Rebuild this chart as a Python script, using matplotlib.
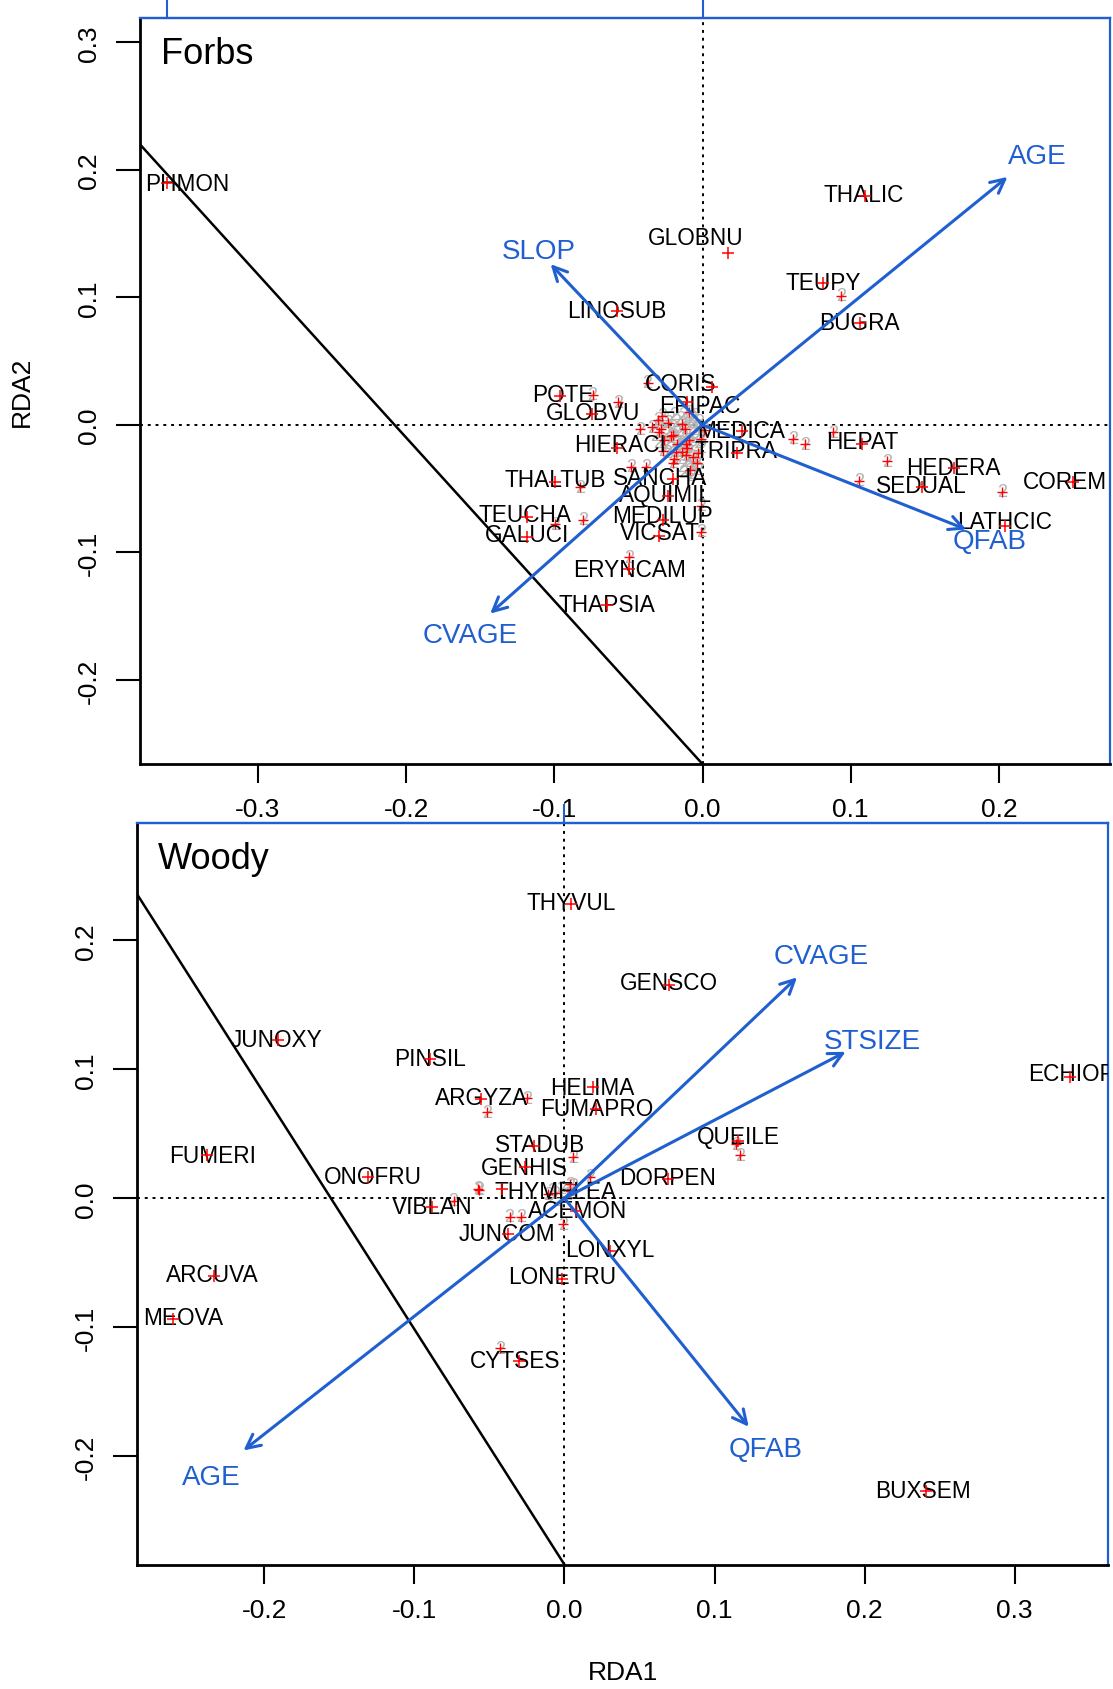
import matplotlib
matplotlib.use('Agg')
import matplotlib.pyplot as plt

plt.rcParams['font.family'] = ['Liberation Sans', 'DejaVu Sans']
NARROW = ['Liberation Sans Narrow', 'Liberation Sans']
BLUE = '#1f5fcf'

# ---------------- Forbs (top panel) ----------------
forbs_names = ['PHMON', 'THALIC', 'GLOBNU', 'TEUPY', 'LINOSUB', 'BUGRA', 'POTE', 'CORIS',
               'GLOBVU', 'EPIPAC', 'MEDICA', 'HIERACI', 'TRIPRA', 'HEPAT', 'HEDERA', 'COREM',
               'SEDUAL', 'THALTUB', 'SANCHA', 'AQUIMIL', 'TEUCHA', 'MEDILUP', 'GALUCI',
               'VICSAT', 'LATHCIC', 'ERYNCAM', 'THAPSIA']
forbs_lab_x = [-0.348, 0.109, -0.0044, 0.0815, -0.0575, 0.106, -0.0945, -0.0145,
               -0.074, -0.0015, 0.026, -0.056, 0.0225, 0.108, 0.1695, 0.2444,
               0.1476, -0.0996, -0.0284, -0.0247, -0.120, -0.0269, -0.1185,
               -0.029, 0.2036, -0.0495, -0.0647]
forbs_lab_y = [0.189, 0.181, 0.147, 0.112, 0.0896, 0.080, 0.0237, 0.0321,
               0.0093, 0.0152, -0.0042, -0.0152, -0.0203, -0.0127, -0.0338, -0.0448,
               -0.0473, -0.0431, -0.0414, -0.0549, -0.0702, -0.071, -0.0862,
               -0.0845, -0.0761, -0.1133, -0.1412]
forbs_pt_x = [-0.3615, 0.1098, 0.0175, 0.0815, -0.0575, 0.1062, -0.096, 0.0065,
              -0.0749, -0.0102, 0.0269, -0.0575, 0.0233, 0.1076, 0.1695, 0.2502,
              0.1484, -0.0996, -0.0196, -0.0233, -0.1185, -0.0269, -0.1185,
              -0.0291, 0.2044, -0.0495, -0.0647]
forbs_pt_y = [0.1893, 0.1792, 0.1344, 0.1116, 0.0896, 0.0795, 0.0228, 0.0296,
              0.0085, 0.0178, -0.0051, -0.0178, -0.022, -0.0152, -0.0338, -0.0448,
              -0.049, -0.0448, -0.0423, -0.0558, -0.0719, -0.0744, -0.0879,
              -0.0871, -0.0795, -0.1133, -0.1412]
# unlabelled species (+) with their sites (2)
forbs_other_x = [0.0938, -0.0742, -0.0567, -0.0371, 0.0611, 0.0691, 0.088, 0.1244,
                 0.1055, 0.2022, -0.0829, -0.0807, -0.0996, -0.048, -0.0378, -0.0007,
                 -0.0007, -0.0495, -0.0422, -0.0342, -0.0233, -0.0291, -0.0211, -0.0175,
                 -0.0138, -0.0102, -0.0065, -0.0269, -0.0196, -0.0087, -0.0007]
forbs_other_y = [0.1014, 0.0237, 0.0178, 0.033, -0.011, -0.0152, -0.0059, -0.0287,
                 -0.044, -0.0524, -0.049, -0.0744, -0.0778, -0.033, -0.033, -0.0634,
                 -0.0837, -0.104, -0.0034, -0.0017, 0.0017, -0.0059, -0.0085, -0.0152,
                 -0.0211, -0.0178, -0.0254, -0.0203, -0.0296, -0.0355, -0.011]
# dense site cloud near the origin
forbs_cloud_x = [-0.030, -0.026, -0.022, -0.018, -0.014, -0.010, -0.006, -0.003, -0.028,
                 -0.024, -0.020, -0.016, -0.012, -0.008, -0.004, -0.001, -0.026, -0.021,
                 -0.017, -0.013, -0.009, -0.005, -0.002, -0.022, -0.018, -0.014, -0.010,
                 -0.006, -0.003, -0.016, -0.012, -0.008, -0.004, -0.010, -0.006, -0.013,
                 -0.009, -0.005, -0.032, -0.030, -0.027, -0.024, -0.019, -0.015, -0.011,
                 -0.007, -0.002, -0.001, -0.019, -0.014, -0.007, -0.002, -0.011, -0.015,
                 -0.011, -0.007, -0.020, -0.024, -0.003, -0.008, 0.001, -0.029, -0.013]
forbs_cloud_y = [0.004, 0.002, 0.005, 0.003, 0.001, 0.004, 0.002, -0.001, -0.003,
                 -0.006, -0.002, -0.005, -0.003, -0.006, -0.004, -0.008, -0.012, -0.010,
                 -0.013, -0.009, -0.012, -0.010, -0.014, -0.018, -0.021, -0.017, -0.020,
                 -0.016, -0.022, -0.026, -0.029, -0.025, -0.030, -0.034, -0.038, 0.008,
                 0.010, 0.007, -0.008, -0.014, 0.007, -0.015, 0.008, -0.009, -0.015,
                 -0.002, 0.003, -0.018, -0.027, -0.033, -0.031, -0.027, -0.024, 0.005,
                 0.000, 0.006, -0.008, -0.022, -0.035, -0.040, -0.004, 0.000, -0.037]
forbs_env = ['AGE', 'SLOP', 'CVAGE', 'QFAB']
forbs_env_x = [0.2058, -0.1025, -0.1433, 0.178]
forbs_env_y = [0.1944, 0.126, -0.148, -0.082]
forbs_env_lab_x = [0.226, -0.1105, -0.157, 0.194]
forbs_env_lab_y = [0.211, 0.136, -0.165, -0.0913]
forbs_xlim = (-0.3796, 0.275)
forbs_ylim = (-0.266, 0.3187)
forbs_xticks = [-0.3, -0.2, -0.1, 0.0, 0.1, 0.2]
forbs_yticks = [-0.2, -0.1, 0.0, 0.1, 0.2, 0.3]
forbs_top_ticks = [-0.3615, 0.0]
forbs_line = (-0.266, -1.28)   # intercept, slope

# ---------------- Woody (bottom panel) ----------------
woody_names = ['THYVUL', 'GENSCO', 'JUNOXY', 'PINSIL', 'ECHIOP', 'HELIMA', 'ARGYZA', 'FUMAPRO',
               'FUMERI', 'QUEILE', 'STADUB', 'GENHIS', 'ONOFRU', 'DORPEN', 'THYMELEA',
               'VIBLAN', 'ACEMON', 'JUNCOM', 'LONXYL', 'LONETRU', 'ARCUVA', 'MEOVA',
               'CYTSES', 'BUXSEM']
woody_lab_x = [0.0043, 0.0696, -0.1917, -0.0897, 0.3378, 0.0187, -0.0553, 0.0215,
               -0.2347, 0.1156, -0.0165, -0.0266, -0.1278, 0.0689, -0.0057,
               -0.0883, 0.0086, -0.038, 0.0302, -0.0014, -0.2347, -0.254,
               -0.033, 0.239]
woody_lab_y = [0.2297, 0.1671, 0.1228, 0.1086, 0.0969, 0.086, 0.0785, 0.0693,
               0.0334, 0.0476, 0.0418, 0.0242, 0.0167, 0.0159, 0.005,
               -0.0067, -0.0092, -0.0276, -0.0393, -0.061, -0.0593, -0.0927,
               -0.126, -0.2264]
woody_pt_x = [0.0043, 0.0696, -0.191, -0.0897, 0.3367, 0.0187, -0.0553, 0.0208,
              -0.2383, 0.1156, -0.0201, -0.0266, -0.1307, 0.0689, -0.0416,
              -0.0883, 0.0079, -0.0373, 0.0302, -0.0014, -0.2333, -0.2606,
              -0.0302, 0.2412]
woody_pt_y = [0.2283, 0.1654, 0.1228, 0.1078, 0.0944, 0.086, 0.0768, 0.0693,
              0.0334, 0.0443, 0.0409, 0.0242, 0.0167, 0.015, 0.0075,
              -0.0067, -0.01, -0.0276, -0.041, -0.0627, -0.0601, -0.0936,
              -0.126, -0.2272]
woody_other_x = [-0.0517, -0.0251, 0.0057, -0.0574, 0.0036, 0.0172, -0.0739, -0.0366,
                 -0.0287, -0.0007, 0.1142, 0.117, -0.0431, -0.0567]
woody_other_y = [0.0668, 0.0777, 0.0317, 0.0075, 0.0109, 0.0167, -0.0017, -0.0142,
                 -0.0142, -0.020, 0.0418, 0.0334, -0.1161, 0.0067]
woody_cloud_x = [-0.006, -0.002, 0.002, -0.004, 0.004, 0.0, -0.008, -0.0079, -0.011, 0.006]
woody_cloud_y = [0.004, 0.008, 0.003, -0.002, 0.006, 0.001, 0.006, 0.0008, 0.003, 0.010]
woody_env = ['CVAGE', 'STSIZE', 'QFAB', 'AGE']
woody_env_x = [0.155, 0.1874, 0.1228, -0.2139]
woody_env_y = [0.1713, 0.1136, -0.1771, -0.1955]
woody_env_lab_x = [0.171, 0.2053, 0.1342, -0.2355]
woody_env_lab_y = [0.188, 0.122, -0.1947, -0.2164]
woody_xlim = (-0.285, 0.362)
woody_ylim = (-0.284, 0.2907)
woody_xticks = [-0.2, -0.1, 0.0, 0.1, 0.2, 0.3]
woody_yticks = [-0.2, -0.1, 0.0, 0.1, 0.2]
woody_top_ticks = [0.0]
woody_line = (-0.284, -1.825)


def panel(ax, title, names, lx, ly, px, py, ox, oy, cx, cy, env, ex, ey, elx, ely,
          xlim, ylim, xticks, yticks, top_ticks, line):
    ax.set_xlim(*xlim)
    ax.set_ylim(*ylim)
    # site scores ("2")
    for x, y in zip(cx + ox, cy + oy):
        ax.text(x, y, '2', color='#b4b4b4', fontsize=13, ha='center', va='center',
                clip_on=True, zorder=1)
    # unlabelled species
    ax.plot(ox + cx[::4], oy + cy[::4], ls='none', marker='+', ms=7, mew=1.0,
            color='red', zorder=2)
    # labelled species
    for name, x, y in zip(names, lx, ly):
        ax.text(x, y, name, fontsize=16.3, ha='center', va='center', color='black',
                clip_on=True, zorder=3)
    ax.plot(px, py, ls='none', marker='+', ms=8, mew=1.1, color='red', zorder=4)
    # reference lines
    ax.axhline(0, color='black', lw=1.4, ls=(0, (1.5, 2.5)), zorder=0)
    ax.axvline(0, color='black', lw=1.4, ls=(0, (1.5, 2.5)), zorder=0)
    ax.axline((0, line[0]), slope=line[1], color='black', lw=1.8, zorder=5)
    # environmental arrows
    for name, x, y, tx, ty in zip(env, ex, ey, elx, ely):
        ax.annotate('', xy=(x, y), xytext=(0, 0),
                    arrowprops=dict(arrowstyle='->,head_length=0.5,head_width=0.25',
                                    color=BLUE, lw=2.2, shrinkA=0, shrinkB=0,
                                    mutation_scale=20), zorder=6)
        ax.text(tx, ty, name, color=BLUE, fontsize=20, ha='center', va='center', zorder=6)
    ax.text(0.022, 0.953, title, transform=ax.transAxes, fontsize=26, ha='left',
            va='center', zorder=7)
    # axes styling
    ax.set_xticks(xticks)
    ax.set_xticklabels([f'{t:.1f}' for t in xticks], fontfamily=NARROW, fontsize=19)
    ax.set_yticks(yticks)
    ax.set_yticklabels([f'{t:.1f}' for t in yticks], fontfamily=NARROW, fontsize=19,
                       rotation=90, va='center')
    ax.tick_params(axis='x', length=14, width=1.5, pad=10)
    ax.tick_params(axis='y', length=17, width=1.5, pad=11)
    for side in ['left', 'bottom']:
        ax.spines[side].set_linewidth(2)
    for side in ['top', 'right']:
        ax.spines[side].set_color(BLUE)
        ax.spines[side].set_linewidth(1.6)
    sec = ax.secondary_xaxis('top')
    sec.set_xticks(top_ticks)
    sec.tick_params(axis='x', color=BLUE, length=14, width=1.5, labeltop=False)
    sec.spines['top'].set_color(BLUE)
    sec.spines['top'].set_linewidth(1.6)


fig = plt.figure(figsize=(11.13, 16.9), dpi=100)
ax1 = fig.add_axes([0.1258, 0.5473, 0.8715, 0.4412])
ax2 = fig.add_axes([0.1229, 0.0736, 0.8723, 0.4386])

panel(ax1, 'Forbs', forbs_names, forbs_lab_x, forbs_lab_y, forbs_pt_x, forbs_pt_y,
      forbs_other_x, forbs_other_y, forbs_cloud_x, forbs_cloud_y,
      forbs_env, forbs_env_x, forbs_env_y, forbs_env_lab_x, forbs_env_lab_y,
      forbs_xlim, forbs_ylim, forbs_xticks, forbs_yticks, forbs_top_ticks, forbs_line)
panel(ax2, 'Woody', woody_names, woody_lab_x, woody_lab_y, woody_pt_x, woody_pt_y,
      woody_other_x, woody_other_y, woody_cloud_x, woody_cloud_y,
      woody_env, woody_env_x, woody_env_y, woody_env_lab_x, woody_env_lab_y,
      woody_xlim, woody_ylim, woody_xticks, woody_yticks, woody_top_ticks, woody_line)

fig.text(22 / 1113, 1 - 392 / 1690, 'RDA2', rotation=90, ha='center', va='center',
         fontsize=19, fontfamily=NARROW)
fig.text(623 / 1113, 1 - 1673 / 1690, 'RDA1', ha='center', va='center',
         fontsize=19, fontfamily=NARROW)

fig.savefig('out.png', dpi=100)
